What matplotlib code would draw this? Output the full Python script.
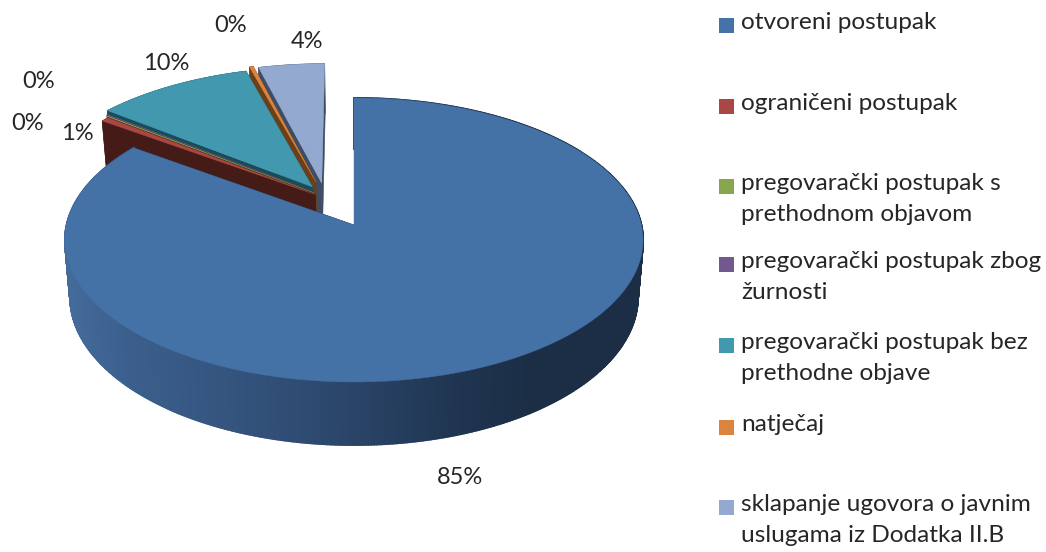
import numpy as np
import matplotlib
matplotlib.use("Agg")
import matplotlib.pyplot as plt
from matplotlib.patches import Rectangle

# Shares (small ones)
categories = [
    "otvoreni postupak",
    "ograničeni postupak",
    "pregovarački postupak s\nprethodnom objavom",
    "pregovarački postupak zbog\nžurnosti",
    "pregovarački postupak bez\nprethodne objave",
    "natječaj",
    "sklapanje ugovora o javnim\nuslugama iz Dodatka II.B",
]
values = [84.9, 0.5, 0.05, 0.05, 10.05, 0.25, 4.2]

top_colors = ["#4471A6", "#AA4644", "#89A54E", "#71588F", "#4198AF", "#DB843D", "#93A9CF"]
wall_colors = ["#1B2E47", "#451B18", "#3C4A22", "#30253E", "#174C5A", "#6B3F18", "#3F4C66"]
legend_colors = ["#4572A7", "#AA4643", "#89A54E", "#71588F", "#4198AF", "#DB843D", "#93A9CF"]

# Pull-out of each slice in pie radius units (sideways, away)
explode_x = [0.0, -0.138, -0.142, -0.145, -0.149, -0.137, -0.116]
explode_y = [0.0, 0.222, 0.235, 0.245, 0.279, 0.317, 0.308]

label_x = [460, 77, 28, 39, 166, 231, 307]
label_y = [477, 133, 123, 82, 64, 26, 42]
legend_y = [25, 106, 186, 264, 345, 427, 507]

# Perspective of the pie, in pixels
APEX_X, APEX_Y = 354, 225
SCALE_X, SCALE_Y = 287.4, 140.4
TILT = 0.1056
DEPTH = 56.3
BOTTOM_SHRINK = 0.982

# Side shading of the big slice, left to right
shade_x = [65, 130, 250, 350, 450, 530, 643]
shade_r = [0.27, 0.23, 0.20, 0.165, 0.125, 0.105, 0.105]
shade_g = [0.42, 0.37, 0.32, 0.27, 0.21, 0.18, 0.18]
shade_b = [0.61, 0.55, 0.48, 0.41, 0.32, 0.275, 0.275]


def project(u, v, bottom=False):
    d = 1 + TILT * v
    if bottom:
        return APEX_X + SCALE_X * BOTTOM_SHRINK * u / d, APEX_Y - (SCALE_Y * v - DEPTH) / d
    return APEX_X + SCALE_X * u / d, APEX_Y - SCALE_Y * v / d


def draw_slice(ax, start, end, top, wall, ox, oy, shaded=False):
    th = np.radians(np.linspace(start, end, max(int((end - start) * 2), 3)))
    u = np.concatenate([[ox], ox + np.sin(th), [ox]])
    v = np.concatenate([[oy], oy + np.cos(th), [oy]])
    xt, yt = project(u, v)
    xb, yb = project(u, v, bottom=True)

    # walls first, the top surface goes over them
    for i in range(len(u) - 1):
        color = wall
        lw = 0.4
        if shaded and 0 < i < len(u) - 2:
            xm = (xt[i] + xt[i + 1]) / 2
            color = (np.interp(xm, shade_x, shade_r),
                     np.interp(xm, shade_x, shade_g),
                     np.interp(xm, shade_x, shade_b))
            lw = 1.4  # overlap the strips so no seams show
        ax.fill([xt[i], xt[i + 1], xb[i + 1], xb[i]],
                [yt[i], yt[i + 1], yb[i + 1], yb[i]],
                color=color, lw=lw)
    ax.fill(xt, yt, color=top, lw=0.3)


plt.rcParams["font.family"] = ["Lato", "DejaVu Sans"]
fig = plt.figure(figsize=(10.46, 5.52), dpi=100)
ax = fig.add_axes([0, 0, 1, 1])
ax.set_xlim(0, 1046)
ax.set_ylim(552, 0)
ax.axis("off")

ends = np.cumsum(values) / sum(values) * 360
starts = np.concatenate([[0], ends[:-1]])

# back to front: last slice first, the big one on top
for i in list(range(1, len(values)))[::-1] + [0]:
    draw_slice(ax, starts[i], ends[i], top_colors[i], wall_colors[i],
               explode_x[i], explode_y[i], shaded=(i == 0))

for v, x, y in zip(values, label_x, label_y):
    label = f"{int(v + 0.5)}%"
    ax.text(x, y, label, ha="center", va="center", fontsize=17, color="#262626")

for name, c, y in zip(categories, legend_colors, legend_y):
    ax.add_patch(Rectangle((719, y - 7.5), 15, 15, facecolor=c, edgecolor="none"))
    ax.text(741, y - 13, name, ha="left", va="top", fontsize=17.6, color="#262626", linespacing=1.59)

fig.savefig("out.png", dpi=100)
